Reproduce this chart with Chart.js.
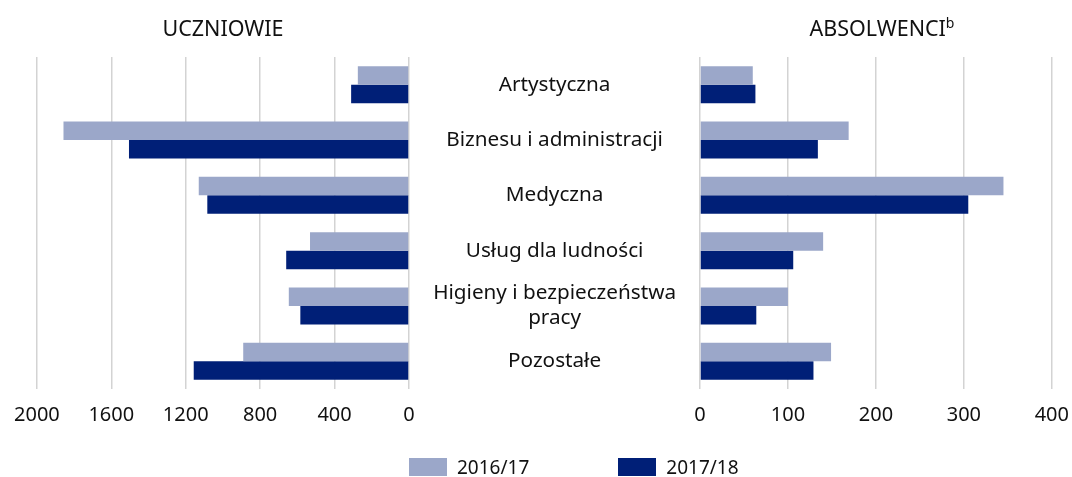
<!DOCTYPE html>
<html><head><meta charset="utf-8">
<script src="https://cdn.jsdelivr.net/npm/chart.js@4/dist/chart.umd.min.js"></script>
<style>
html,body{margin:0;padding:0;background:#fff;}
body{width:1072px;height:477px;position:relative;overflow:hidden;font-family:"Noto Sans",sans-serif;color:#111;}
.wrap{position:absolute;top:0;height:456px;}
.title{position:absolute;top:14px;font-size:21.5px;line-height:28px;transform:translateX(-50%);white-space:nowrap;}
.title sup{font-size:14px;vertical-align:8px;line-height:0;}
#legend{position:absolute;top:456px;left:409px;display:flex;font-size:19px;line-height:22px;}
#legend .item{display:flex;align-items:center;margin-right:89px;}
#legend .box{width:38px;height:18px;margin-right:10px;}
</style></head>
<body>
<div class="wrap" style="left:0;width:430px;"><canvas id="left"></canvas></div>
<div class="wrap" style="left:415px;width:668px;"><canvas id="right"></canvas></div>
<div class="title" id="t1" style="left:223px;"></div>
<div class="title" id="t2" style="left:882px;"></div>
<div id="legend"></div>
<script>
const categories = ["Artystyczna","Biznesu i administracji","Medyczna","Usług dla ludności",["Higieny i bezpieczeństwa","pracy"],"Pozostałe"];
const seriesNames = ["2016/17","2017/18"];
const seriesColors = ["#9ba7c9","#001f77"];
const students1617 = [275,1857,1130,532,646,891];
const students1718 = [311,1505,1084,660,584,1157];
const graduates1617 = [60,169,345,140,100,149];
const graduates1718 = [63,134,305,106,64,129];
const titleLeft = "UCZNIOWIE";
const titleRight = "ABSOLWENCI";
const titleRightSup = "b";

document.getElementById('t1').textContent = titleLeft;
document.getElementById('t2').innerHTML = titleRight + '<sup>' + titleRightSup + '</sup>';
const leg = document.getElementById('legend');
seriesNames.forEach((n,i)=>{
  const it=document.createElement('div');it.className='item';
  const b=document.createElement('div');b.className='box';b.style.background=seriesColors[i];
  const t=document.createElement('span');t.textContent=n;
  it.appendChild(b);it.appendChild(t);leg.appendChild(it);
});

const FONT = {family:"'Noto Sans', sans-serif", size:20};
const CATFONT = {family:"'Noto Sans', sans-serif", size:20.7, lineHeight:1.2};
const GRID = {color:'#d3d3d3', lineWidth:1.5, drawTicks:false, tickLength:0};
const plain = (v)=>String(v);

function datasets(a,b){
  return [
    {label:seriesNames[0],data:a,backgroundColor:seriesColors[0],barPercentage:1,categoryPercentage:0.67},
    {label:seriesNames[1],data:b,backgroundColor:seriesColors[1],barPercentage:1,categoryPercentage:0.67}
  ];
}
const common = {
  indexAxis:'y', responsive:true, maintainAspectRatio:false, animation:false,
  plugins:{legend:{display:false},tooltip:{enabled:false},title:{display:false}}
};

new Chart(document.getElementById('left'),{
  type:'bar',
  data:{labels:categories,datasets:datasets(students1617,students1718)},
  options:Object.assign({},common,{
    layout:{padding:{top:57,left:36,right:21,bottom:15}},
    scales:{
      x:{min:0,max:2000,reverse:true,ticks:{stepSize:400,color:'#111',font:FONT,padding:14,maxRotation:0,callback:plain},grid:GRID,border:{display:false}},
      y:{display:false}
    }
  })
});

new Chart(document.getElementById('right'),{
  type:'bar',
  data:{labels:categories,datasets:datasets(graduates1617,graduates1718)},
  options:Object.assign({},common,{
    layout:{padding:{top:57,left:0,right:10,bottom:15}},
    scales:{
      x:{min:0,max:400,ticks:{stepSize:100,color:'#111',font:FONT,padding:14,maxRotation:0,callback:plain},grid:GRID,border:{display:false}},
      y:{ticks:{color:'#111',font:CATFONT,crossAlign:'center',padding:24},
         grid:{display:false,drawTicks:false,tickLength:0},border:{display:false},
         afterFit:(s)=>{s.width=285;}}
    }
  })
});
</script>
</body></html>
